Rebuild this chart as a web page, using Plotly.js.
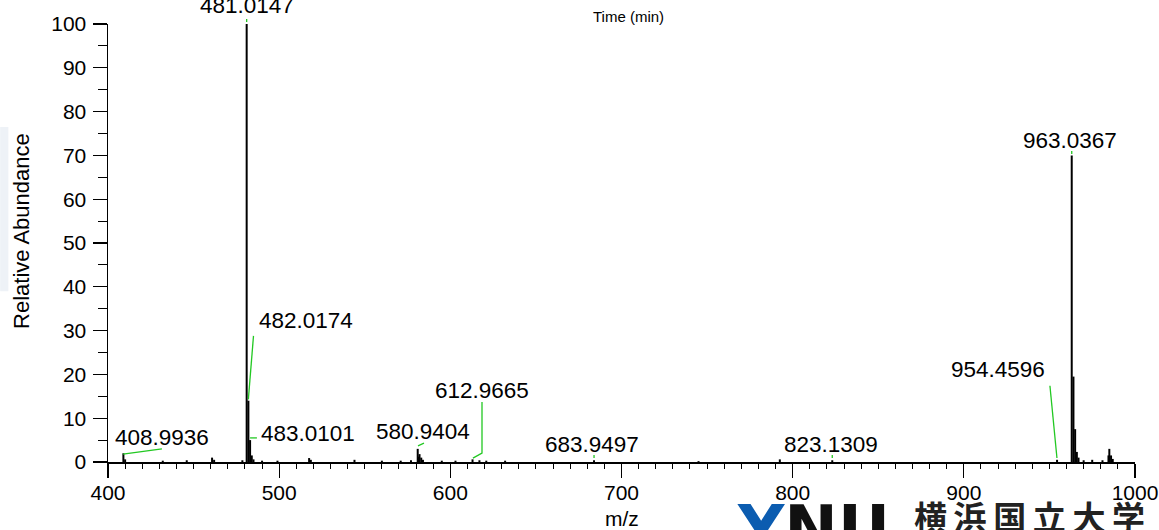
<!DOCTYPE html>
<html>
<head>
<meta charset="utf-8">
<script src="https://cdn.plot.ly/plotly-3.0.1.min.js"></script>
<style>html,body{margin:0;padding:0;background:#fff;}#chart{width:1159px;height:530px;}</style>
</head>
<body>
<div id="chart"></div>
<script>
// Peak list (m/z, relative abundance %)
const peakMz = [408.99, 410.0, 432.0, 446.0, 460.8, 462.0, 478.5, 481.0147, 482.0174, 483.0101, 484.0, 485.0,
  490.0, 499.0, 517.5, 518.5, 544.0, 560.0, 571.0, 577.0, 580.9404, 581.6, 582.0, 583.0, 584.0, 595.0, 603.0,
  612.9665, 617.0, 621.0, 632.0, 683.9497, 745.0, 792.5, 823.1309, 954.4596, 963.0367, 964.04, 965.03, 966.03,
  967.0, 970.0, 975.0, 981.0, 984.5, 985.0, 986.0, 987.0];
const peakInt = [2.0, 0.6, 0.3, 0.4, 1.0, 0.5, 0.4, 100, 14, 5, 1.5, 0.6,
  0.3, 0.3, 0.9, 0.5, 0.5, 0.3, 0.3, 0.4, 3.0, 1.2, 1.8, 1.0, 0.5, 0.3, 0.3,
  0.6, 0.4, 0.3, 0.3, 0.4, 0.2, 0.6, 0.4, 0.5, 70, 19.5, 7.5, 2.3,
  1.0, 0.4, 0.5, 0.4, 1.5, 3.0, 1.5, 0.7];

// Labelled peaks
const labelText = ["482.0174", "483.0101", "408.9936", "580.9404", "612.9665", "683.9497", "823.1309", "954.4596", "963.0367"];
const topLabel = "481.0147";
const topLabelMz = 481.0147;
const xTickVals = [400, 500, 600, 700, 800, 900, 1000];
const yTickVals = [0, 10, 20, 30, 40, 50, 60, 70, 80, 90, 100];

// label text positions (m/z, abundance) and leader polylines
const labelPos = [[515.4, 32.4], [516.8, 6.4], [431.4, 5.6], [584.3, 7.0], [618.5, 16.3], [682.8, 4.1], [822.4, 4.1], [920.1, 21.1], [962.3, 73.5]];
const leaders = [
  [[485.0, 28.8], [482.0, 14.3]],
  [[483.0, 5.5], [487.0, 5.5]],
  [[408.8, 1.8], [431.5, 3.0]],
  [[581.1, 3.7], [584.6, 4.3]],
  [[618.5, 13.7], [618.5, 2.05], [613.2, 0.9]],
  [[683.95, 1.6], [683.95, 0.9]],
  [[823.13, 1.6], [823.13, 0.9]],
  [[950.3, 17.4], [954.4, 0.9]],
  [[963.04, 71.0], [963.04, 70.3]]
];

const sx = [], sy = [];
for (let i = 0; i < peakMz.length; i++) {
  sx.push(peakMz[i], peakMz[i], null);
  sy.push(0, peakInt[i], null);
}

const traces = [{
  type: 'scatter', mode: 'lines', x: sx, y: sy,
  line: {color: '#000', width: 2}, hoverinfo: 'skip', showlegend: false
}];
leaders.forEach(pts => {
  traces.push({type: 'scatter', mode: 'lines', x: pts.map(p => p[0]), y: pts.map(p => p[1]),
    line: {color: '#22c822', width: 1.3}, hoverinfo: 'skip', showlegend: false});
});

const font = 'Arial, "Liberation Sans", sans-serif';
const ann = labelText.map((t, i) => ({
  x: labelPos[i][0], y: labelPos[i][1], xref: 'x', yref: 'y', text: t, showarrow: false,
  xanchor: 'center', yanchor: 'middle', font: {family: font, size: 22.5, color: '#000'}
}));
ann.push({x: topLabelMz, y: 100, xref: 'x', yref: 'y', text: topLabel, showarrow: true,
  arrowhead: 0, arrowwidth: 1.3, arrowcolor: '#22c822', standoff: 2, ax: 0, ay: -19,
  xanchor: 'center', yanchor: 'middle', font: {family: font, size: 22.5, color: '#000'}});
ann.push({xref: 'paper', yref: 'paper', x: -0.0838, y: 0.5274, text: 'Relative Abundance', textangle: -90,
  showarrow: false, xanchor: 'center', yanchor: 'middle', font: {family: font, size: 22, color: '#000'}});
ann.push({xref: 'paper', yref: 'paper', x: 0.5, y: -0.1301, text: 'm/z',
  showarrow: false, xanchor: 'center', yanchor: 'middle', font: {family: font, size: 21, color: '#000'}});
ann.push({xref: 'paper', yref: 'paper', x: 0.5073, y: 1.016, text: 'Time (min)',
  showarrow: false, xanchor: 'center', yanchor: 'middle', font: {family: font, size: 15, color: '#000'}});
ann.push({xref: 'paper', yref: 'paper', x: 0.6105, y: -0.152, text: '<span style="color:#0b5cb0">Y</span>NU',
  showarrow: false, xanchor: 'left', yanchor: 'middle', font: {family: '"DejaVu Sans", sans-serif', size: 64, color: '#111', weight: 'bold'}});
ann.push({xref: 'paper', yref: 'paper', x: 0.7829, y: -0.1233, text: '横\u2009浜\u2009国\u2009立\u2009大\u2009学',
  showarrow: false, xanchor: 'left', yanchor: 'middle', font: {family: '"Noto Sans CJK JP", sans-serif', size: 33, color: '#222', weight: 'bold'}});

const axisCommon = {
  showline: true, linecolor: '#000', linewidth: 1.5, showgrid: false, zeroline: false,
  ticks: 'outside', ticklen: 14, tickwidth: 1.3, tickcolor: '#000',
  tickfont: {family: font, size: 21, color: '#000'}
};

const layout = {
  width: 1159, height: 530,
  margin: {l: 108, r: 24, t: 24, b: 68, pad: 0},
  paper_bgcolor: '#fff', plot_bgcolor: '#fff',
  showlegend: false,
  xaxis: Object.assign({}, axisCommon, {range: [400, 1000], tickvals: xTickVals, ticktext: xTickVals.map(String),
    ticklabelstandoff: -3,
    minor: {dtick: 10, tick0: 400, ticks: 'outside', ticklen: 5, tickwidth: 1, tickcolor: '#000'}}),
  yaxis: Object.assign({}, axisCommon, {range: [0, 100], tickvals: yTickVals, ticktext: yTickVals.map(String),
    ticklabelstandoff: 2,
    minor: {dtick: 5, tick0: 0, ticks: 'outside', ticklen: 9, tickwidth: 1, tickcolor: '#000'}}),
  annotations: ann,
  shapes: [{type: 'rect', xref: 'paper', yref: 'paper', x0: -0.105, x1: -0.097, y0: 0.39, y1: 0.765,
    fillcolor: '#eef2f7', line: {width: 0}, layer: 'below'}]
};

Plotly.newPlot('chart', traces, layout, {displayModeBar: false, staticPlot: true});
</script>
</body>
</html>
